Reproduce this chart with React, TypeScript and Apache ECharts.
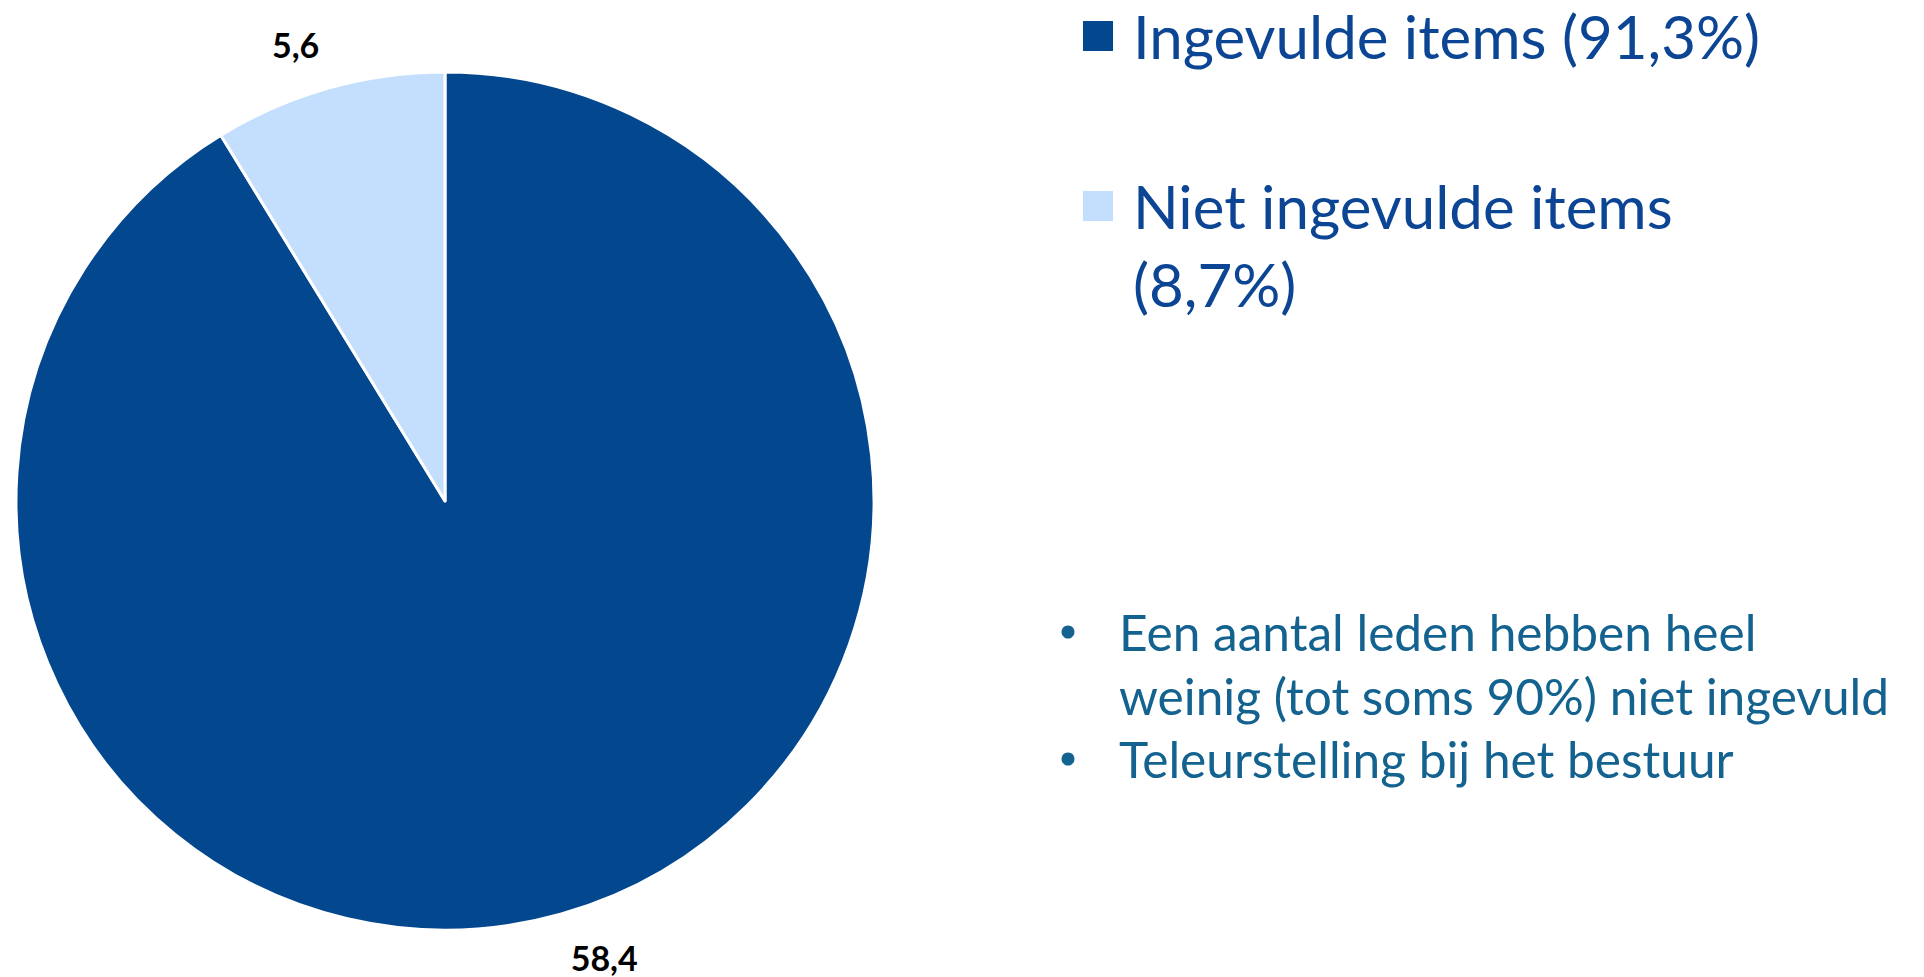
import React, { useEffect, useRef } from "react";
import * as echarts from "echarts";

const categories = ["Ingevulde items", "Niet ingevulde items"];
const values = [58.4, 5.6];
const sliceColors = ["#03478F", "#C4DFFD"];
const legendLabels = ["Ingevulde items (91,3%)", "Niet ingevulde items\n(8,7%)"];
const bullets = [
  "Een aantal leden hebben heel\nweinig (tot soms 90%) niet ingevuld",
  "Teleurstelling bij het bestuur",
];

const FONT = "Lato, 'Noto Sans', sans-serif";
const LEG_SIZE = 60;
const LEG_LH = 78;
const BUL_SIZE = 49.6;
const BUL_LH = 64;

export default function App() {
  const ref = useRef<HTMLDivElement>(null);
  useEffect(() => {
    document.body.style.margin = "0";
    if (!ref.current) return;
    const chart = echarts.init(ref.current, undefined, { renderer: "svg" });
    const bulletCenters = [632, 759];
    const graphics: any[] = [];
    bullets.forEach((b, i) => {
      graphics.push({
        type: "circle",
        shape: { cx: 1068, cy: bulletCenters[i], r: 6.5 },
        style: { fill: "#13628F" },
      });
      graphics.push({
        type: "text",
        x: 1119,
        y: bulletCenters[i] - BUL_LH / 2,
        style: {
          text: b,
          fontFamily: FONT,
          fontSize: BUL_SIZE,
          lineHeight: BUL_LH,
          fill: "#13628F",
          verticalAlign: "top",
          align: "left",
        },
      });
    });
    const legendBase = {
      orient: "vertical",
      left: 1081,
      padding: 0,
      icon: "rect",
      itemWidth: 32,
      itemHeight: 32,
      selectedMode: false,
      textStyle: {
        fontFamily: FONT,
        fontSize: LEG_SIZE,
        lineHeight: LEG_LH,
        color: "#0B4594",
        padding: [0, 0, 0, 14],
      },
    };
    chart.setOption({
      animation: false,
      color: sliceColors,
      legend: [
        {
          ...legendBase,
          top: 36 - LEG_LH / 2,
          data: [categories[0]],
          formatter: (name: string) => legendLabels[categories.indexOf(name)],
        },
        {
          ...legendBase,
          top: 206 - 1.5 * LEG_LH,
          data: [categories[1]],
          // leading empty line keeps the icon aligned with the first text line
          formatter: (name: string) => "\n" + legendLabels[categories.indexOf(name)],
        },
      ],
      graphic: graphics,
      series: [
        {
          type: "pie",
          center: [445, 501],
          radius: 429,
          startAngle: 90,
          clockwise: true,
          avoidLabelOverlap: false,
          itemStyle: { borderColor: "#ffffff", borderWidth: 3 },
          label: {
            show: true,
            position: "outside",
            formatter: (p: any) => String(p.value).replace(".", ","),
            fontFamily: FONT,
            fontWeight: "bold",
            fontSize: 34,
            lineHeight: 34,
            color: "#000000",
            distanceToLabelLine: -3,
          },
          labelLine: {
            show: true,
            length: 45,
            length2: 0,
            lineStyle: { width: 0, opacity: 0 },
          },
          emphasis: { disabled: true },
          data: categories.map((c, i) => ({ name: c, value: values[i] })),
        },
      ],
    });
    return () => chart.dispose();
  }, []);
  return <div ref={ref} style={{ width: 1924, height: 977 }} />;
}
